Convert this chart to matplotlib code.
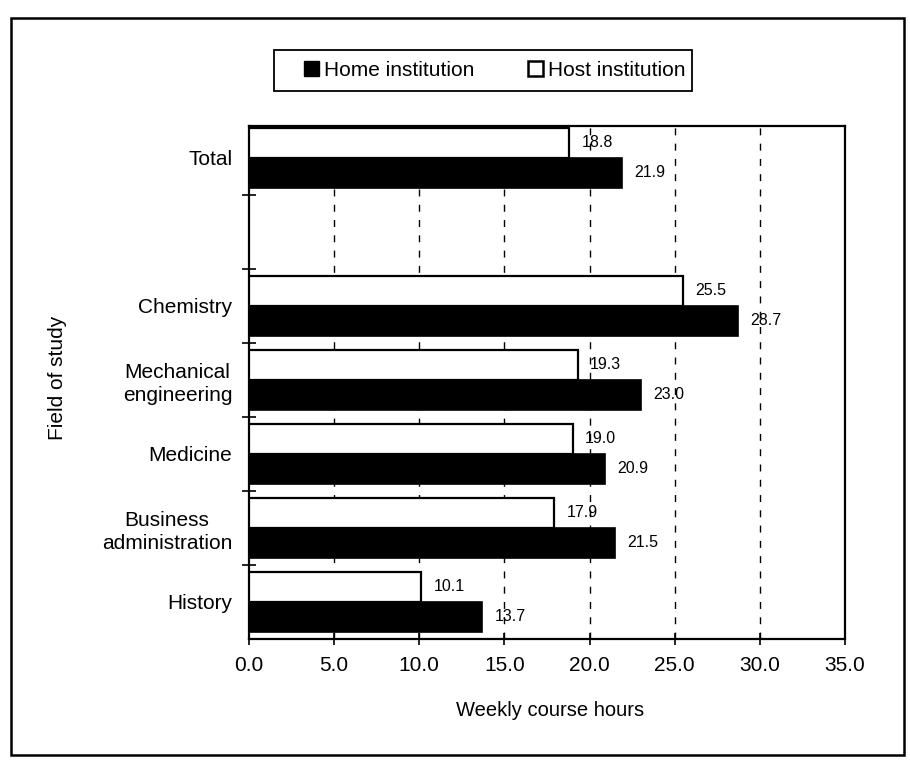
import matplotlib
matplotlib.use("Agg")
import matplotlib.pyplot as plt
from matplotlib.patches import Rectangle, Patch
import numpy as np

plt.rcParams['font.family'] = ['Liberation Sans', 'DejaVu Sans']

# Data (top to bottom as displayed)
categories = ["Total", "", "Chemistry", "Mechanical\nengineering", "Medicine",
              "Business\nadministration", "History"]
home_values = [21.9, None, 28.7, 23.0, 20.9, 21.5, 13.7]
host_values = [18.8, None, 25.5, 19.3, 19.0, 17.9, 10.1]
x_ticks = [0, 5, 10, 15, 20, 25, 30, 35]
series_names = ["Home institution", "Host institution"]

W, H = 910, 765
fig = plt.figure(figsize=(W/100, H/100), dpi=100)
fig.patches.append(Rectangle((11/W, 1-755/H), (904-11)/W, (755-18)/H,
                             transform=fig.transFigure, fill=False,
                             edgecolor='black', linewidth=1.8))

L, R, T, B = 249, 845, 126, 639
ax = fig.add_axes([L/W, 1-B/H, (R-L)/W, (B-T)/H])

n = len(categories)
ypos = np.arange(n)[::-1]  # Total at top
bh = 0.405
for y, hv, ho in zip(ypos, home_values, host_values):
    if hv is None:
        continue
    ax.barh(y - bh/2, hv, height=bh, color='black', edgecolor='black', linewidth=1.2, zorder=3)
    ax.barh(y + bh/2, ho, height=bh, color='white', edgecolor='black', linewidth=1.6, zorder=3)
    ax.annotate(f"{hv:.1f}", (hv, y - bh/2), xytext=(9, 0), textcoords='offset points',
                ha='left', va='center', fontsize=11.5)
    ax.annotate(f"{ho:.1f}", (ho, y + bh/2), xytext=(9, 0), textcoords='offset points',
                ha='left', va='center', fontsize=11.5)

ax.set_xlim(0, 35)
ax.set_ylim(-0.5, 6.43)
ax.set_xticks(x_ticks)
ax.set_xticklabels([f"{t:.1f}" for t in x_ticks], fontsize=15)
ax.tick_params(axis='x', direction='inout', length=9, width=1.2, pad=8)

label_pos = [y for y, c in zip(ypos, categories) if c]
label_txt = [c for c in categories if c]
ax.set_yticks(label_pos)
ax.set_yticklabels(label_txt, fontsize=15, multialignment='center', linespacing=1.3)
ax.tick_params(axis='y', which='major', length=0, pad=12)
ax.set_yticks(np.arange(0.5, n - 1, 1.0), minor=True)
ax.tick_params(axis='y', which='minor', direction='inout', length=10, width=1.2)

for xv in x_ticks[1:-1]:
    ax.axvline(xv, color='black', linestyle=(0, (5, 6)), linewidth=1.0, zorder=1)

for s in ax.spines.values():
    s.set_linewidth(1.6)
    s.set_color('black')

fig.text(550/W, 1-710/H, "Weekly course hours", ha='center', va='center', fontsize=14.5)
fig.text(58/W, 1-378/H, "Field of study", ha='center', va='center', fontsize=15, rotation=90)

# legend frame
fig.patches.append(Rectangle((274/W, 1-91/H), (692-274)/W, (91-50)/H,
                             transform=fig.transFigure, fill=False,
                             edgecolor='black', linewidth=1.3))
handles = [Patch(facecolor='black', edgecolor='black'),
           Patch(facecolor='white', edgecolor='black', linewidth=1.8)]
leg = fig.legend(handles, series_names, loc='center left', bbox_to_anchor=(304/W, 1-70/H),
                 ncol=2, fontsize=15, frameon=False,
                 handlelength=0.7, handleheight=0.7, handletextpad=0.25, columnspacing=2.6,
                 borderpad=0, borderaxespad=0)

fig.savefig("out.png", dpi=100)
